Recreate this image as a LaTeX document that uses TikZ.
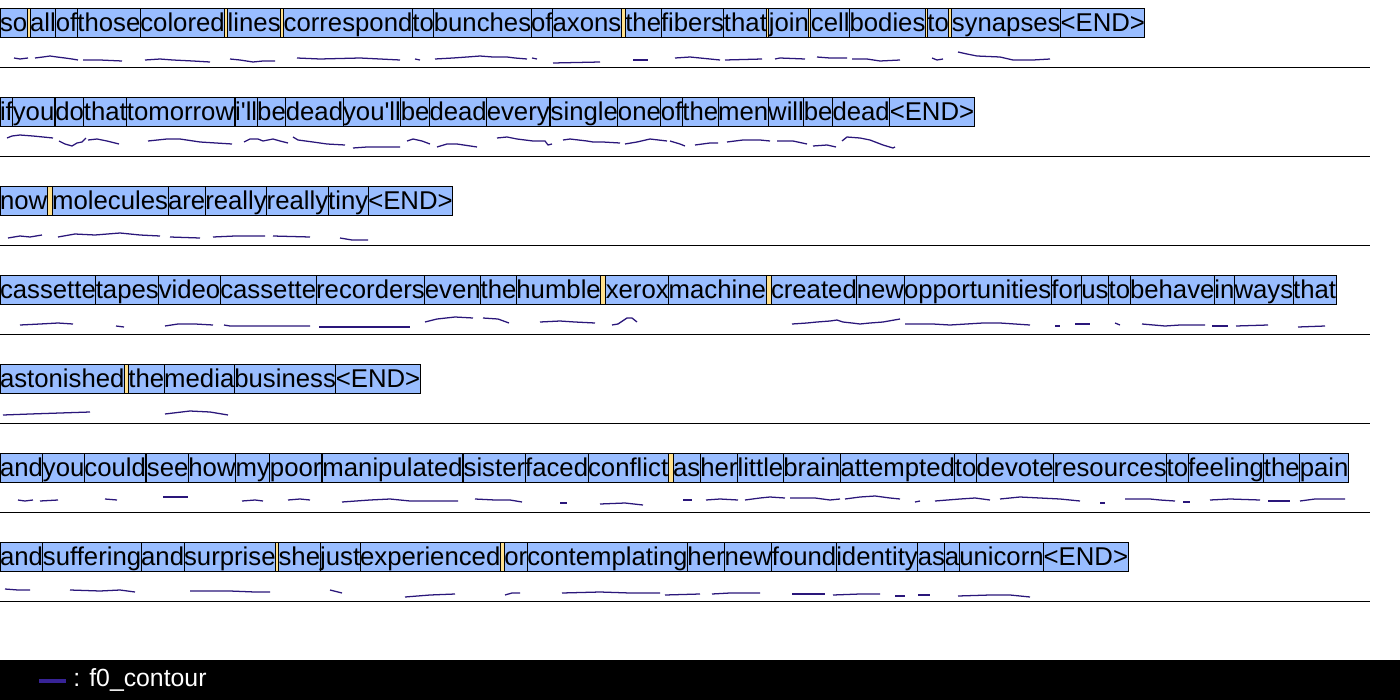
\documentclass[tikz,border=0pt]{standalone}
\usepackage{fontspec}
\usetikzlibrary{positioning}
\newfontfamily\wordfont[Ligatures={TeXOff,CommonOff}]{Liberation Sans}
\definecolor{wordblue}{RGB}{153,189,255}
\definecolor{pauseyellow}{RGB}{255,224,140}
\definecolor{fzeroblue}{RGB}{42,22,122}
\tikzset{
	word/.style={draw=black, fill=wordblue, line width=0.75pt, inner xsep=0pt, inner ysep=0pt, outer sep=0pt, text height=17.4pt, text depth=4.35pt, anchor=north west, font={\wordfont\fontsize{19.3pt}{22pt}\selectfont}},
	p1/.style={word, fill=pauseyellow, minimum width=0.75pt},
	p2/.style={word, fill=pauseyellow, minimum width=1.5pt},
	p3/.style={word, fill=pauseyellow, minimum width=2.25pt},
	p4/.style={word, fill=pauseyellow, minimum width=3pt},
	p5/.style={word, fill=pauseyellow, minimum width=3.75pt},
	f0/.style={draw=fzeroblue, line width=0.95pt, line join=round},
	rowline/.style={draw=black, line width=0.75pt}
}
\begin{document}
\begin{tikzpicture}[x=0.75pt,y=0.75pt,yscale=-1,xscale=1]
	\useasboundingbox (0,0) rectangle (1400,700);

	% Row 1
	\node[word] (r1-1) at (0,8) {so};
	\foreach \s/\t [count=\i from 2, remember=\i as \j (initially 1)] in {p3/{}, word/all, word/of, word/those, word/colored, p3/{}, word/lines, p3/{}, word/correspond, word/to, word/bunches, word/of, word/axons, p4/{}, word/the, word/fibers, word/that, p2/{}, word/join, p2/{}, word/cell, word/bodies, p2/{}, word/to, p3/{}, word/synapses, word/{<END>}}
		\node[\s] (r1-\i) at (r1-\j.north east) {\t};
	\draw[f0] (14,58) -- (20,59) -- (28,58);
	\draw[f0] (35,58) -- (43,57) -- (50,56) -- (57,57) -- (65,58) -- (72,59) -- (78,60);
	\draw[f0] (83,60) -- (100,60) -- (122,61);
	\draw[f0] (145,60) -- (160,59) -- (173,60) -- (193,61) -- (210,62);
	\draw[f0] (230,59) -- (240,60) -- (253,62) -- (263,61) -- (275,61);
	\draw[f0] (297,58) -- (320,59) -- (360,58) -- (400,60);
	\draw[f0] (415,59) -- (420,60);
	\draw[f0] (435,59) -- (453,58) -- (467,57) -- (480,56) -- (493,57) -- (507,57) -- (515,58) -- (527,59);
	\draw[f0] (532,58) -- (537,59);
	\draw[f0] (553,63) -- (600,62);
	\draw[f0] (633,60) -- (648,60);
	\draw[f0] (675,58) -- (690,57) -- (700,58) -- (710,59) -- (720,60);
	\draw[f0] (725,60) -- (762,59);
	\draw[f0] (775,59) -- (780,58) -- (805,59);
	\draw[f0] (817,57) -- (830,58) -- (847,58);
	\draw[f0] (852,59) -- (867,59) -- (880,61) -- (900,60);
	\draw[f0] (932,58) -- (937,60) -- (943,59);
	\draw[f0] (958,52) -- (967,54) -- (977,56) -- (1000,57) -- (1013,60) -- (1033,60) -- (1050,59);
	\draw[rowline] (0,67.5) -- (1370,67.5);

	% Row 2
	\node[word] (r2-1) at (0,97) {if};
	\foreach \s/\t [count=\i from 2, remember=\i as \j (initially 1)] in {word/you, p1/{}, word/do, word/that, word/tomorrow, p1/{}, word/i'll, word/be, word/dead, word/you'll, word/be, word/dead, word/every, p1/{}, word/single, word/one, word/of, word/the, word/men, word/will, word/be, word/dead, word/{<END>}}
		\node[\s] (r2-\i) at (r2-\j.north east) {\t};
	\draw[f0] (7,138) -- (12,136) -- (20,135) -- (33,136) -- (43,137) -- (53,138);
	\draw[f0] (59,141) -- (65,144) -- (72,146) -- (77,143) -- (82,142) -- (86,138);
	\draw[f0] (88,140) -- (97,139) -- (107,141) -- (119,144);
	\draw[f0] (148,141) -- (167,139) -- (180,139) -- (200,142) -- (232,144);
	\draw[f0] (244,142) -- (250,139) -- (258,139) -- (263,141) -- (273,139) -- (280,141) -- (288,143);
	\draw[f0] (293,137) -- (298,140) -- (313,142) -- (327,144) -- (345,145);
	\draw[f0] (353,148) -- (367,147) -- (400,147);
	\draw[f0] (407,141) -- (413,139) -- (422,141) -- (430,144);
	\draw[f0] (437,147) -- (447,144) -- (457,144) -- (477,147);
	\draw[f0] (497,138) -- (507,137) -- (517,139) -- (533,141) -- (545,141) -- (548,145) -- (552,144);
	\draw[f0] (563,140) -- (570,139) -- (587,141) -- (593,142) -- (603,142) -- (620,143);
	\draw[f0] (625,144) -- (637,142) -- (650,139) -- (667,141);
	\draw[f0] (670,141) -- (680,144) -- (685,146);
	\draw[f0] (695,145) -- (710,143) -- (718,143);
	\draw[f0] (727,142) -- (743,140) -- (760,140) -- (770,141);
	\draw[f0] (777,141) -- (793,141) -- (807,144);
	\draw[f0] (813,146) -- (827,145) -- (836,147);
	\draw[f0] (842,141) -- (847,137) -- (860,138) -- (870,140) -- (883,145) -- (893,148) -- (895,147);
	\draw[rowline] (0,156.5) -- (1370,156.5);

	% Row 3
	\node[word] (r3-1) at (0,186) {now};
	\foreach \s/\t [count=\i from 2, remember=\i as \j (initially 1)] in {p5/{}, word/molecules, word/are, word/really, word/really, word/tiny, word/{<END>}}
		\node[\s] (r3-\i) at (r3-\j.north east) {\t};
	\draw[f0] (8,238) -- (20,236) -- (30,237) -- (42,235);
	\draw[f0] (58,237) -- (75,234) -- (95,235) -- (120,233) -- (140,235) -- (160,236);
	\draw[f0] (170,237) -- (200,238);
	\draw[f0] (213,237) -- (235,236) -- (265,236);
	\draw[f0] (273,236) -- (310,237);
	\draw[f0] (340,238) -- (352,240) -- (368,240);
	\draw[rowline] (0,245.5) -- (1370,245.5);

	% Row 4
	\node[word] (r4-1) at (0,275) {cassette};
	\foreach \s/\t [count=\i from 2, remember=\i as \j (initially 1)] in {word/tapes, word/video, word/cassette, word/recorders, word/even, word/the, word/humble, p5/{}, word/xerox, word/machine, p5/{}, word/created, word/new, word/opportunities, word/for, word/us, word/to, word/behave, word/in, word/ways, word/that}
		\node[\s] (r4-\i) at (r4-\j.north east) {\t};
	\draw[f0] (20,325) -- (40,324) -- (58,323) -- (73,324);
	\draw[f0] (116,326) -- (124,327);
	\draw[f0] (165,326) -- (178,324) -- (195,324) -- (213,325);
	\draw[f0] (224,325) -- (230,326) -- (310,326);
	\draw[f0] (319,327) -- (410,327);
	\draw[f0] (425,322) -- (437,319) -- (455,317) -- (473,318);
	\draw[f0] (483,318) -- (498,319) -- (509,323);
	\draw[f0] (540,322) -- (560,321) -- (575,322) -- (595,323);
	\draw[f0] (612,325) -- (618,324) -- (627,318) -- (632,318) -- (637,322);
	\draw[f0] (792,324) -- (807,323) -- (817,322) -- (830,321) -- (837,320) -- (843,322) -- (852,323) -- (860,324) -- (870,323) -- (883,322) -- (900,319);
	\draw[f0] (905,324) -- (933,324) -- (950,325) -- (983,323) -- (1000,323) -- (1030,325);
	\draw[f0] (1055,326) -- (1060,326);
	\draw[f0] (1075,324) -- (1090,324);
	\draw[f0] (1115,323) -- (1120,325);
	\draw[f0] (1142,324) -- (1165,326) -- (1180,325) -- (1205,325);
	\draw[f0] (1212,326) -- (1228,326);
	\draw[f0] (1236,326) -- (1268,325);
	\draw[f0] (1298,327) -- (1325,326);
	\draw[rowline] (0,334.5) -- (1370,334.5);

	% Row 5
	\node[word] (r5-1) at (0,364) {astonished};
	\foreach \s/\t [count=\i from 2, remember=\i as \j (initially 1)] in {p4/{}, word/the, word/media, word/business, word/{<END>}}
		\node[\s] (r5-\i) at (r5-\j.north east) {\t};
	\draw[f0] (3,415) -- (30,414) -- (60,413) -- (90,412);
	\draw[f0] (165,414) -- (190,411) -- (210,412) -- (228,415);
	\draw[rowline] (0,423.5) -- (1370,423.5);

	% Row 6
	\node[word] (r6-1) at (0,453) {and};
	\foreach \s/\t [count=\i from 2, remember=\i as \j (initially 1)] in {word/you, word/could, p1/{}, word/see, word/how, word/my, word/poor, p1/{}, word/manipulated, p1/{}, word/sister, word/faced, word/conflict, p5/{}, word/as, word/her, word/little, word/brain, word/attempted, word/to, word/devote, word/resources, word/to, word/feeling, word/the, word/pain}
		\node[\s] (r6-\i) at (r6-\j.north east) {\t};
	\draw[f0] (18,500) -- (25,501) -- (33,500);
	\draw[f0] (40,501) -- (58,500);
	\draw[f0] (105,499) -- (117,500);
	\draw[f0] (163,497) -- (188,497);
	\draw[f0] (242,501) -- (255,500) -- (263,501);
	\draw[f0] (288,500) -- (300,499) -- (310,500);
	\draw[f0] (342,502) -- (370,500) -- (390,499) -- (410,501) -- (458,501);
	\draw[f0] (475,499) -- (495,500) -- (510,500) -- (522,502);
	\draw[f0] (560,503) -- (567,503);
	\draw[f0] (600,504) -- (625,503) -- (643,505);
	\draw[f0] (683,500) -- (692,500);
	\draw[f0] (706,500) -- (720,499) -- (738,500);
	\draw[f0] (745,500) -- (760,498) -- (770,497) -- (785,498);
	\draw[f0] (790,498) -- (815,498) -- (830,500) -- (840,499);
	\draw[f0] (845,499) -- (860,497) -- (875,496) -- (890,498) -- (900,499);
	\draw[f0] (915,502) -- (920,501);
	\draw[f0] (935,501) -- (960,499) -- (975,498) -- (990,500);
	\draw[f0] (1000,499) -- (1020,497) -- (1040,498) -- (1060,499) -- (1080,501);
	\draw[f0] (1100,503) -- (1105,503);
	\draw[f0] (1125,499) -- (1150,499) -- (1160,500) -- (1175,501);
	\draw[f0] (1183,502) -- (1190,502);
	\draw[f0] (1210,500) -- (1230,499) -- (1260,500);
	\draw[f0] (1268,501) -- (1290,501);
	\draw[f0] (1300,501) -- (1315,499) -- (1345,499);
	\draw[rowline] (0,512.5) -- (1370,512.5);

	% Row 7
	\node[word] (r7-1) at (0,542) {and};
	\foreach \s/\t [count=\i from 2, remember=\i as \j (initially 1)] in {word/suffering, word/and, word/surprise, p3/{}, word/she, word/just, word/experienced, p4/{}, word/or, word/contemplating, word/her, word/new, word/found, word/identity, word/as, word/a, word/unicorn, word/{<END>}}
		\node[\s] (r7-\i) at (r7-\j.north east) {\t};
	\draw[f0] (5,589) -- (18,590) -- (30,590);
	\draw[f0] (70,590) -- (100,591) -- (120,590) -- (135,592);
	\draw[f0] (190,591) -- (230,591) -- (255,592) -- (270,592);
	\draw[f0] (330,590) -- (342,593);
	\draw[f0] (405,597) -- (430,595) -- (455,594);
	\draw[f0] (505,595) -- (512,593) -- (520,593);
	\draw[f0] (562,593) -- (600,592) -- (630,593) -- (660,593);
	\draw[f0] (665,595) -- (700,594);
	\draw[f0] (712,594) -- (730,593) -- (760,593);
	\draw[f0] (792,594) -- (825,594);
	\draw[f0] (833,595) -- (860,594) -- (880,594);
	\draw[f0] (895,596) -- (905,596);
	\draw[f0] (918,595) -- (930,595);
	\draw[f0] (958,596) -- (990,595) -- (1010,595) -- (1030,597);
	\draw[rowline] (0,601.5) -- (1370,601.5);

	% Legend
	\fill[black] (0,660) rectangle (1400,700);
	\coordinate (key-a) at (39,681);
	\coordinate (key-b) at (66,681);
	\draw[draw={rgb,255:red,55;green,35;blue,150}, line width=2.4pt] (key-a) -- (key-b);
	\node[anchor=west, inner sep=0pt, text=white, font={\wordfont\fontsize{18.6pt}{22pt}\selectfont}] (key-text) at (73,680) {: f0\_contour};

\end{tikzpicture}
\end{document}
